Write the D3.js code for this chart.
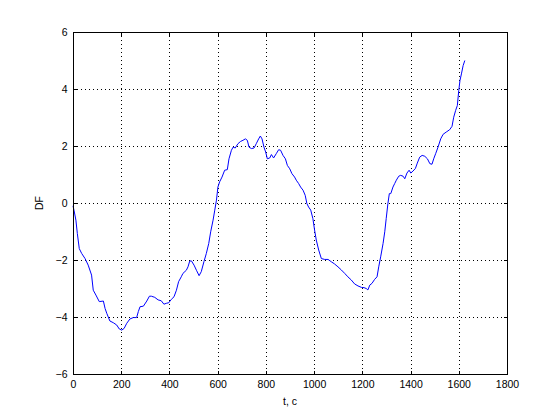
<!DOCTYPE html>
<html>
<head>
<meta charset="utf-8">
<script src="https://cdn.jsdelivr.net/npm/d3@7"></script>
<style>
  html, body { margin: 0; padding: 0; background: #fff; }
  svg { display: block; }
  text { font-family: "Liberation Sans", "DejaVu Sans", sans-serif; font-size: 10.5px; fill: #000; }
</style>
</head>
<body>
<svg id="chart" width="560" height="420"></svg>
<script>
const tValues = [0, 4, 12, 18, 26, 36, 50, 63, 77, 84, 95, 109, 126, 133, 140, 153, 167, 181, 192, 202, 212, 223, 236, 250, 264, 271, 278, 292, 306, 317,
  325, 339, 353, 366, 377, 387, 397, 408, 419, 429, 438, 449, 456, 470, 477, 484, 491, 502, 512, 523, 532, 543, 553, 563, 571, 581, 588, 595, 601, 608, 618, 629, 640, 647,
  657, 664, 673, 684, 695, 705, 715, 723, 730, 740, 751, 760, 770, 777, 784, 792, 799, 806, 816, 823, 832, 843, 853, 861, 871, 881, 889, 899, 908, 919, 926, 936, 944, 954, 963, 970, 977,
  986, 995, 1002, 1009, 1019, 1030, 1044, 1058, 1071, 1085, 1099, 1113, 1127, 1140, 1154, 1168, 1182, 1196, 1207, 1216, 1223, 1231, 1240, 1251, 1261, 1268, 1276, 1286, 1293, 1299, 1306, 1312,
  1318, 1327, 1334, 1341, 1351, 1359, 1369, 1376, 1385, 1394, 1401, 1410, 1420, 1428, 1438, 1448, 1459, 1470, 1480, 1489, 1496, 1504, 1514, 1525, 1535, 1548, 1562, 1572, 1579, 1587, 1594, 1600, 1605, 1611, 1618, 1625];
const dfValues = [-0.1, -0.25, -0.6, -1.07, -1.6, -1.77, -1.95, -2.18, -2.53, -3.06, -3.23, -3.46, -3.44, -3.7, -3.87, -4.14, -4.2, -4.28, -4.42, -4.46, -4.4, -4.22, -4.07, -4.02, -4.02, -3.81, -3.64, -3.62, -3.44, -3.27,
  -3.27, -3.31, -3.4, -3.43, -3.55, -3.52, -3.5, -3.38, -3.29, -3.06, -2.76, -2.59, -2.47, -2.36, -2.24, -2.04, -2.03, -2.18, -2.36, -2.55, -2.41, -2.06, -1.77, -1.42, -1.01, -0.6, -0.25, 0.1, 0.56, 0.74, 0.91, 1.15, 1.17, 1.55,
  1.85, 1.96, 1.93, 2.08, 2.16, 2.2, 2.25, 2.2, 1.96, 1.91, 1.93, 2.08, 2.25, 2.35, 2.25, 1.96, 1.79, 1.55, 1.58, 1.7, 1.58, 1.73, 1.87, 1.85, 1.67, 1.55, 1.32, 1.2, 1.03, 0.91, 0.8, 0.68, 0.56, 0.45, 0.27, -0.02, -0.14,
  -0.25, -0.55, -0.95, -1.3, -1.65, -1.95, -1.98, -1.98, -2.06, -2.14, -2.24, -2.35, -2.47, -2.59, -2.7, -2.84, -2.91, -2.96, -2.97, -3.0, -3.05, -2.88, -2.82, -2.68, -2.59, -2.24, -1.89, -1.42, -1.01, -0.55, -0.02, 0.33,
  0.33, 0.56, 0.68, 0.8, 0.94, 0.97, 0.94, 0.85, 1.05, 1.15, 1.05, 1.12, 1.21, 1.4, 1.61, 1.67, 1.64, 1.55, 1.38, 1.36, 1.55, 1.73, 1.96, 2.25, 2.41, 2.49, 2.57, 2.69, 3.01, 3.25, 3.42, 3.95, 4.3, 4.53, 4.82, 5.0];
const xTicks = [0, 200, 400, 600, 800, 1000, 1200, 1400, 1600, 1800];
const yTicks = [-6, -4, -2, 0, 2, 4, 6];
const xLabel = "t, c";
const yLabel = "DF";

const mLeft = 73, mRight = 507, mTop = 32, mBottom = 374;
const svg = d3.select("#chart");
const x = d3.scaleLinear().domain([0, 1800]).range([mLeft, mRight]);
const y = d3.scaleLinear().domain([-6, 6]).range([mBottom, mTop]);

// grid
const grid = svg.append("g").attr("stroke", "#000").attr("stroke-width", 1)
  .attr("stroke-dasharray", "1,3").attr("shape-rendering", "crispEdges");
xTicks.slice(1, -1).forEach(v => {
  grid.append("line").attr("x1", Math.round(x(v)) + 0.5).attr("x2", Math.round(x(v)) + 0.5)
    .attr("y1", mTop).attr("y2", mBottom);
});
yTicks.slice(1, -1).forEach(v => {
  grid.append("line").attr("y1", Math.round(y(v)) + 0.5).attr("y2", Math.round(y(v)) + 0.5)
    .attr("x1", mLeft).attr("x2", mRight);
});

// line
const data = tValues.map((t, i) => [t, dfValues[i]]);
svg.append("path").datum(data)
  .attr("fill", "none").attr("stroke", "#0000ff").attr("stroke-width", 1)
  .attr("d", d3.line().x(d => x(d[0])).y(d => y(d[1])));

// axes
const tickLen = 4;
const bAxis = svg.append("g").attr("transform", `translate(0,${mBottom + 0.5})`)
  .call(d3.axisBottom(x).tickValues(xTicks).tickSize(-tickLen).tickPadding(8).tickFormat(d3.format("d")));
const tAxis = svg.append("g").attr("transform", `translate(0,${mTop + 0.5})`)
  .call(d3.axisTop(x).tickValues(xTicks).tickSize(-tickLen).tickFormat(""));
const lAxis = svg.append("g").attr("transform", `translate(${mLeft + 0.5},0)`)
  .call(d3.axisLeft(y).tickValues(yTicks).tickSize(-tickLen).tickPadding(8).tickFormat(d3.format("d")));
const rAxis = svg.append("g").attr("transform", `translate(${mRight + 0.5},0)`)
  .call(d3.axisRight(y).tickValues(yTicks).tickSize(-tickLen).tickFormat(""));
[bAxis, tAxis, lAxis, rAxis].forEach(g => {
  g.select(".domain").remove();
  g.selectAll("line").attr("stroke", "#000").attr("shape-rendering", "crispEdges");
  g.selectAll("text").attr("font-family", "Liberation Sans, DejaVu Sans, sans-serif").attr("font-size", 10.5).attr("fill", "#000");
});
bAxis.selectAll("text").attr("y", 6).attr("dy", "0.71em");
lAxis.selectAll("text").attr("x", -6);
// box
svg.append("rect").attr("x", mLeft + 0.5).attr("y", mTop + 0.5)
  .attr("width", mRight - mLeft).attr("height", mBottom - mTop)
  .attr("fill", "none").attr("stroke", "#000").attr("shape-rendering", "crispEdges");

svg.append("text").attr("x", (mLeft + mRight) / 2).attr("y", 405).attr("text-anchor", "middle").text(xLabel);
svg.append("text").attr("transform", `translate(43,${(mTop + mBottom) / 2}) rotate(-90)`)
  .attr("text-anchor", "middle").text(yLabel);
</script>
</body>
</html>
